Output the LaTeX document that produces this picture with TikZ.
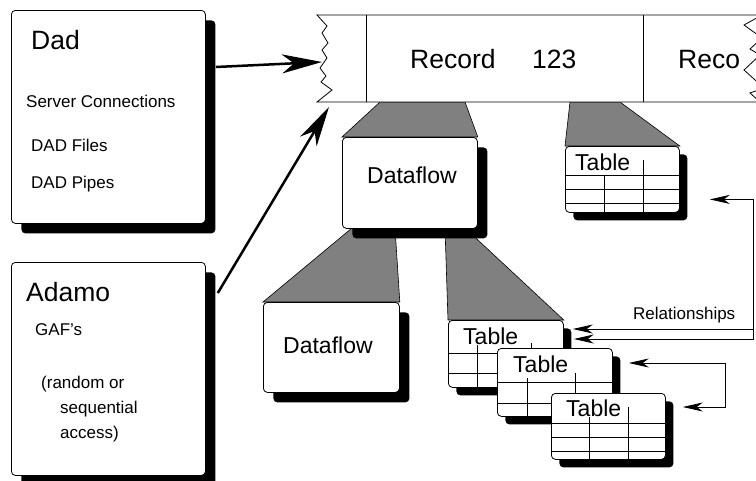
\documentclass[tikz,border=0pt]{standalone}
\usepackage{fontspec}
\setmainfont{Liberation Sans}
\usetikzlibrary{arrows.meta,shadows,backgrounds}
\newcommand\tabh[2]{\draw[gridline] ([shift={(0,#2)}]#1.north west) -- ([shift={(0,#2)}]#1.north east);}
\newcommand\tabv[3]{\draw[gridline] ([shift={(#2,#3)}]#1.north west) -- ([shift={(#2,0)}]#1.south west);}
\tikzset{
  box/.style={draw, fill=white, rounded corners=4pt, line width=0.8pt, inner sep=0pt, anchor=north west},
  bigshadow/.style={drop shadow={shadow xshift=10pt, shadow yshift=-10pt, fill=black, opacity=1}},
  tabshadow/.style={drop shadow={shadow xshift=8pt, shadow yshift=-8pt, fill=black, opacity=1}},
  tabbox/.style={box, tabshadow, minimum width=114pt, minimum height=66pt},
  gridline/.style={line width=0.7pt},
  lbl/.style={inner sep=0pt, anchor=base west, font=\fontsize{17}{20}\selectfont},
  biglbl/.style={inner sep=0pt, anchor=base west, font=\fontsize{26.5}{30}\selectfont},
  midlbl/.style={inner sep=0pt, anchor=base west, font=\fontsize{23}{26}\selectfont},
  trap/.style={fill=black!50, draw=black, line width=0.6pt},
  bigarrow/.style={line width=2.5pt, -{Stealth[length=40pt, width=19pt, inset=12pt]}},
  relarrow/.style={line width=0.8pt},
  rtip/.tip={Stealth[length=20pt, width=9pt, inset=6pt]}
}
\begin{document}
\begin{tikzpicture}[x=1pt, y=-1pt]
\useasboundingbox (0,0) rectangle (756,480);
\clip (0,0) rectangle (756,480);

% record strip
\draw[fill=white, line width=0.8pt]
  (317,15) -- (762,15) -- (744,25) -- (762,38) -- (750,49) -- (760,55) -- (744,70)
  -- (764,88) -- (750,93) -- (760,102) -- (317,102)
  -- (332,90) -- (321,82) -- (326,76) -- (320,68) -- (327,58) -- (322,50)
  -- (328,43) -- (322,33) -- (327,26) -- cycle;
\draw[line width=1pt] (366,15) -- (366,102);
\draw[line width=1pt] (643,15) -- (643,102);
\node[biglbl] (rec) at (410,68) {Record};
\node[biglbl] (num) at (532,68) {123};
\node[biglbl] (reco) at (678,68) {Reco};
\coordinate (recin) at (322,62);
\coordinate (recin2) at (329,107);

% Dad box
\node[box, bigshadow, minimum width=194pt, minimum height=213pt] (dad) at (11,10) {};
\node[biglbl] (dadl) at (31,49) {Dad};
\node[lbl] (dads) at (26,107) {Server Connections};
\node[lbl] (dadf) at (31,151) {DAD Files};
\node[lbl] (dadp) at (31,188) {DAD Pipes};

% Adamo box
\node[box, bigshadow, minimum width=194pt, minimum height=213pt] (adamo) at (11,262) {};
\node[biglbl] (adl) at (26,301) {Adamo};
\node[lbl] (adg) at (35,335) {GAF’s};
\node[lbl] (adr) at (41,388) {(random or};
\node[lbl] (ads) at (60,413) {sequential};
\node[lbl] (ada) at (60,438) {access)};

% Dataflow boxes
\node[box, bigshadow, minimum width=135pt, minimum height=91pt] (df1) at (342,137) {};
\node[midlbl] (df1l) at (367,183) {Dataflow};
\node[box, bigshadow, minimum width=136pt, minimum height=90pt] (df2) at (263,302) {};
\node[midlbl] (df2l) at (283,353) {Dataflow};

% Table 1
\node[tabbox] (t1) at (565,146) {};
\node[midlbl] (t1l) at (575,170) {Table};
\tabh{t1}{29}\tabh{t1}{43}\tabh{t1}{57}
\tabv{t1}{39}{29}\tabv{t1}{78}{14}

% Table 2
\node[tabbox, minimum width=115pt, minimum height=67pt] (t2) at (448,320) {};
\node[midlbl] (t2l) at (463,344) {Table};
\tabh{t2}{33}\tabh{t2}{53}
\tabv{t2}{29}{25}\tabv{t2}{83}{23}

% Table 3
\node[tabbox, minimum width=115pt, minimum height=68pt] (t3) at (497,348) {};
\node[midlbl] (t3l) at (513,372) {Table};
\tabh{t3}{34}\tabh{t3}{55}
\tabv{t3}{30}{30}\tabv{t3}{78}{25}

% Table 4
\node[tabbox] (t4) at (551,393) {};
\node[midlbl] (t4l) at (566,416) {Table};
\tabh{t4}{30}\tabh{t4}{44}\tabh{t4}{58}
\tabv{t4}{38}{24}\tabv{t4}{77}{14}

% grey trapezoids behind
\begin{pgfonlayer}{background}
\draw[trap] (380,102) -- (465,102) -- (df1.north east) -- (df1.north west) -- cycle;
\draw[trap] (570,102) -- (620,102) -- (t1.north east) -- (t1.north west) -- cycle;
\draw[trap] (352,228) -- (395,228) -- (df2.north east) -- (df2.north west) -- cycle;
\draw[trap] (445,228) -- (465,228) -- (t2.north east) -- (t2.north west) -- cycle;
\end{pgfonlayer}

% big arrows
\draw[bigarrow] ([shift={(10,57)}]dad.north east) -- (recin);
\draw[bigarrow] ([shift={(12,31)}]adamo.north east) -- (recin2);

% relationships
\coordinate (t1tip) at ([shift={(30,20)}]t1.east);
\coordinate (t2tipa) at ([shift={(9,9)}]t2.north east);
\coordinate (t2tipb) at ([shift={(10,19)}]t2.north east);
\coordinate (t3tip) at ([shift={(16,15)}]t3.north east);
\coordinate (t4tip) at ([shift={(17,14)}]t4.north east);
\coordinate (rx) at (753,0);
\coordinate (rx2) at (725,0);
\draw[relarrow, rtip-rtip] (t1tip) -- (t1tip -| rx) -- (t2tipb -| rx) -- (t2tipb);
\draw[relarrow, -rtip] (t2tipa -| rx) -- (t2tipa);
\draw[relarrow, rtip-rtip] (t3tip) -- (t3tip -| rx2) -- (t4tip -| rx2) -- (t4tip);
\node[lbl] (rel) at (633,319) {Relationships};
\end{tikzpicture}
\end{document}
